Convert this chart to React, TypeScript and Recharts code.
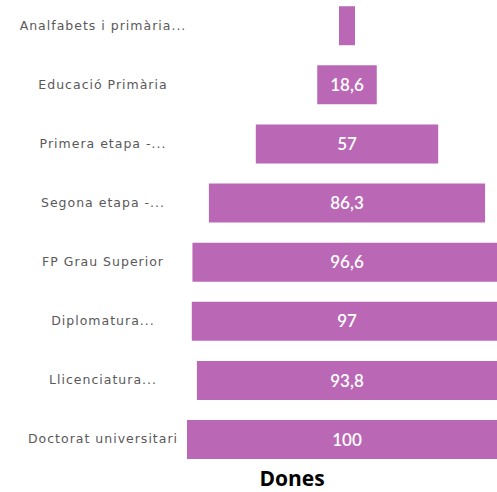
import { BarChart, Bar, XAxis, YAxis, LabelList } from "recharts";

const categories = [
  "Analfabets i primària...",
  "Educació Primària",
  "Primera etapa -...",
  "Segona etapa -...",
  "FP Grau Superior",
  "Diplomatura...",
  "Llicenciatura...",
  "Doctorat universitari",
];
const values = [5, 18.6, 57, 86.3, 96.6, 97, 93.8, 100];
const maxValue = 100;

// funnel: invisible offset + centered value bar
const data = categories.map((name, i) => ({
  name,
  offset: (maxValue - values[i]) / 2,
  value: values[i],
}));

const CategoryTick = (props: any) => {
  const { x, y, payload } = props;
  return (
    <text
      x={x - 76}
      y={y}
      dy={4}
      textAnchor="middle"
      fill="#595959"
      fontSize={12.5}
      fontFamily="'DejaVu Sans', sans-serif"
      letterSpacing={1}
    >
      {payload.value}
    </text>
  );
};

export default function App() {
  return (
    <div
      style={{
        position: "absolute",
        left: 0,
        top: 0,
        width: 497,
        height: 492,
        overflow: "hidden",
        background: "#fff",
      }}
    >
      <div style={{ position: "absolute", left: 0, top: -4 }}>
        <BarChart
          width={507}
          height={473}
          data={data}
          layout="vertical"
          margin={{ top: 0, right: 0, bottom: 0, left: 0 }}
          barCategoryGap="17.3%"
        >
          <XAxis type="number" domain={[0, maxValue]} hide />
          <YAxis
            type="category"
            dataKey="name"
            width={187}
            axisLine={false}
            tickLine={false}
            tick={<CategoryTick />}
          />
          <Bar dataKey="offset" stackId="a" fill="transparent" isAnimationActive={false} />
          <Bar dataKey="value" stackId="a" fill="#BA68B6" isAnimationActive={false}>
            <LabelList
              dataKey="value"
              position="center"
              fill="#ffffff"
              fontSize={17}
              fontWeight={600}
              fontFamily="Lato, sans-serif"
              formatter={(v: any) => (v < 10 ? "" : String(v).replace(".", ","))}
            />
          </Bar>
        </BarChart>
      </div>
      <div
        style={{
          position: "absolute",
          left: 192,
          width: 200,
          top: 470,
          lineHeight: "16px",
          textAlign: "center",
          fontFamily: "'Open Sans', sans-serif",
          fontWeight: 700,
          fontSize: 21,
          color: "#000",
        }}
      >
        Dones
      </div>
    </div>
  );
}
